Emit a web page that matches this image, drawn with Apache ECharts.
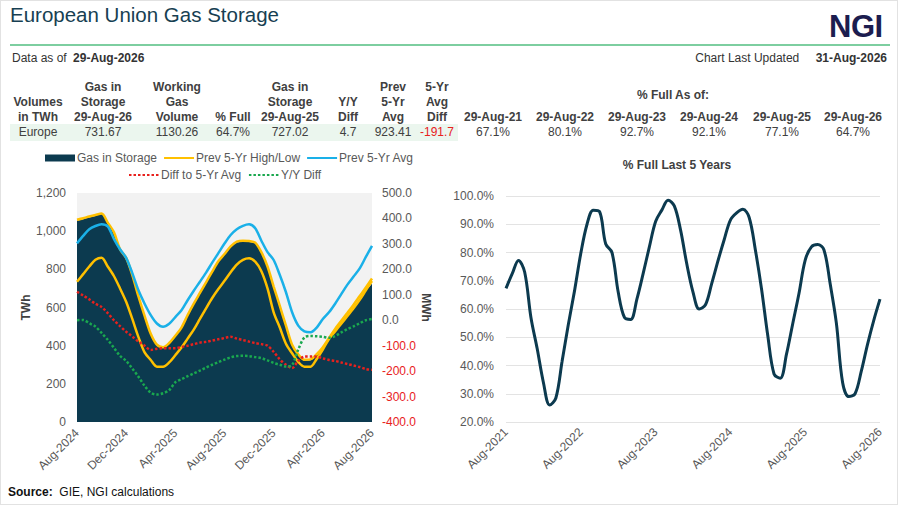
<!DOCTYPE html>
<html>
<head>
<meta charset="utf-8">
<title>European Union Gas Storage</title>
<script src="https://cdn.jsdelivr.net/npm/echarts@6/dist/echarts.min.js"></script>
<style>
  html, body { margin: 0; padding: 0; background: #fff; }
  body { width: 900px; height: 506px; position: relative; overflow: hidden;
         font-family: 'Liberation Sans', Arial, sans-serif; color: #333; }
  #frame { position: absolute; left: 0; top: 0; width: 896px; height: 503px; border: 1px solid #e2e2e2; }
  #chart { position: absolute; left: 0; top: 0; width: 900px; height: 506px; }
  .t { position: absolute; white-space: nowrap; font-size: 12px; line-height: 15px; }
  .c { transform: translateX(-50%); text-align: center; }
  .b { font-weight: bold; }
  #title { position: absolute; left: 10px; top: 5px; font-size: 20.5px; line-height: 20px; color: #173f52; white-space: nowrap; }
  #logo { position: absolute; left: 829px; top: 11px; font-size: 31px; line-height: 31px; font-weight: bold; color: #1c1d4f; letter-spacing: -0.5px; }
  #rule { position: absolute; left: 10px; top: 44px; width: 880px; height: 2px; background: #7dcea0; }
  #rowbg { position: absolute; left: 10px; top: 124px; width: 448px; height: 17px; background: #ebf6ee; }
</style>
</head>
<body>
<div id="frame"></div>
<div id="chart"></div>
<div id="title">European Union Gas Storage</div>
<div id="logo">NGI</div>
<div id="rule"></div>
<div class="t" style="left:12px;top:51px;">Data as of <b style="margin-left:3px;">29-Aug-2026</b></div>
<div class="t" style="right:13px;top:51px;">Chart Last Updated <b style="margin-left:13px;">31-Aug-2026</b></div>
<div id="rowbg"></div>
<div id="table"></div>
<div class="t c b" style="left:677px;top:158px;color:#404040;">% Full Last 5 Years</div>
<div class="t" style="left:8px;top:485px;color:#111;"><b>Source:</b>&nbsp; GIE, NGI calculations</div>
<script>
// 储量表
var tableHeads = [
    ['Volumes', 'in TWh'],
    ['Gas in', 'Storage', '29-Aug-26'],
    ['Working', 'Gas', 'Volume'],
    ['% Full'],
    ['Gas in', 'Storage', '29-Aug-25'],
    ['Y/Y', 'Diff'],
    ['Prev', '5-Yr', 'Avg'],
    ['5-Yr', 'Avg', 'Diff']
];
var tableRow = ['Europe', '731.67', '1130.26', '64.7%', '727.02', '4.7', '923.41', '-191.7'];
var tableX = [38, 103, 177, 233, 290, 348, 393, 437];

var fullDates = ['29-Aug-21', '29-Aug-22', '29-Aug-23', '29-Aug-24', '29-Aug-25', '29-Aug-26'];
var fullValues = ['67.1%', '80.1%', '92.7%', '92.1%', '77.1%', '64.7%'];
var fullX = [493, 565, 637, 709, 782, 853];

// 左图：每半月一个点，2024年8月 - 2026年8月
var leftGas = [1055, 1063, 1072, 1080, 1088, 1040, 990, 901, 856, 765,
    653, 552, 458, 400, 388, 410, 448, 490, 556, 615,
    671, 728, 784, 838, 875, 915, 940, 945, 943, 935,
    885, 810, 705, 603, 500, 400, 350, 322, 324, 349,
    382, 430, 477, 518, 557, 596, 643, 688, 725];
var leftHigh = [1060, 1068, 1077, 1085, 1092, 1045, 995, 905, 860, 770,
    658, 556, 462, 405, 392, 414, 452, 495, 560, 620,
    676, 732, 788, 842, 880, 920, 945, 950, 948, 940,
    890, 815, 710, 608, 505, 405, 355, 326, 328, 355,
    392, 440, 488, 530, 572, 615, 660, 705, 752];
var leftLow = [735, 775, 815, 850, 861, 815, 765, 700, 630, 540,
    445, 365, 325, 290, 290, 312, 350, 390, 437, 484,
    540, 596, 650, 697, 740, 785, 825, 850, 858, 840,
    790, 700, 575, 495, 410, 360, 315, 290, 290, 330,
    380, 435, 475, 515, 555, 596, 640, 690, 738];
var leftAvg = [936, 975, 1010, 1027, 1036, 1025, 960, 905, 860, 780,
    690, 620, 560, 516, 499, 515, 550, 585, 638, 688,
    735, 783, 835, 885, 935, 980, 1010, 1028, 1036, 1015,
    950, 890, 849, 770, 680, 575, 505, 475, 470, 495,
    540, 575, 620, 670, 720, 762, 805, 865, 923];
var leftDiffAvg = [112, 97, 82, 65, 52, 28, 0, -23, -45, -64,
    -84, -100, -117, -112, -110, -110, -110, -105, -100, -94,
    -88, -85, -80, -75, -70, -65, -72, -78, -84, -90,
    -94, -100, -124, -154, -175, -188, -160, -143, -143, -143,
    -150, -156, -160, -166, -172, -178, -184, -192, -195];
var leftDiffYoY = [0, 1, -12, -25, -50, -77, -108, -140, -160, -190,
    -222, -258, -285, -292, -287, -275, -244, -232, -220, -209,
    -198, -186, -175, -165, -155, -146, -141, -140, -141, -145,
    -149, -158, -168, -175, -182, -176, -115, -68, -62, -63,
    -65, -69, -62, -48, -35, -24, -12, 0, 5];

// 右图：每月一个点，2021年8月 - 2026年8月
var rightPctFull = [67.3, 72.5, 77.2, 73, 57, 46, 34, 26, 28.5, 41.5,
    54.5, 66.5, 79.7, 90, 95, 94.5, 83, 80, 66, 57,
    56.3, 63.5, 72.5, 82, 91, 95, 98.5, 96.5, 88, 76,
    66, 60, 61.5, 69, 77, 84.5, 91.5, 94, 95.3, 92.5,
    81, 67, 50.5, 37, 35.5, 44, 54.8, 65.5, 77.3, 82,
    82.8, 81, 69, 55, 34, 29, 30, 38, 47.5, 56,
    63.5];

var monthNames = ['Jan', 'Feb', 'Mar', 'Apr', 'May', 'Jun', 'Jul', 'Aug', 'Sep', 'Oct', 'Nov', 'Dec'];
var leftDates = [], rightDates = [];
leftGas.forEach(function (v, i) {
    var m = 7 + Math.floor(i / 2);
    var label = monthNames[m % 12] + '-' + (2024 + Math.floor(m / 12));
    leftDates.push(i % 2 ? '15-' + label : label);
});
rightPctFull.forEach(function (v, i) {
    var m = 7 + i;
    rightDates.push(monthNames[m % 12] + '-' + (2021 + Math.floor(m / 12)));
});

// 表格文字
var html = '';
var rowTop = [79.5, 94.5, 109.5];
tableHeads.forEach(function (lines, i) {
    lines.forEach(function (txt, k) {
        var top = rowTop[3 - lines.length + k];
        html += '<div class="t c b" style="left:' + tableX[i] + 'px;top:' + top + 'px;color:#404040;">' + txt + '</div>';
    });
    var color = tableRow[i].charAt(0) === '-' ? '#e8211d' : '#404040';
    html += '<div class="t c" style="left:' + tableX[i] + 'px;top:125px;color:' + color + ';">' + tableRow[i] + '</div>';
});
html += '<div class="t c b" style="left:673px;top:88px;color:#404040;">% Full As of:</div>';
fullDates.forEach(function (d, i) {
    html += '<div class="t c b" style="left:' + fullX[i] + 'px;top:109.5px;color:#404040;">' + d + '</div>';
    html += '<div class="t c" style="left:' + fullX[i] + 'px;top:125px;color:#404040;">' + fullValues[i] + '</div>';
});
document.getElementById('table').innerHTML = html;

var navy = '#0c3a4f', gold = '#ffc000', blue = '#1ab0e8', red = '#e8211d', green = '#1aa84f';
var labelGrey = '#595959';

var myChart = echarts.init(document.getElementById('chart'), null, {renderer: 'svg'});
var legendBase = {
    padding: 0,
    itemWidth: 30, itemHeight: 7,
    itemStyle: {opacity: 0},
    textStyle: {color: labelGrey, fontSize: 12, padding: [0, 0, 0, -3]}
};
var option = {
    animation: false,
    textStyle: {fontFamily: 'Liberation Sans, Arial, sans-serif'},
    legend: [
        echarts.util.merge({
            left: 45, top: 152, itemGap: 6,
            data: [{name: 'Gas in Storage', icon: 'rect', itemStyle: {opacity: 1, color: navy}},
                'Prev 5-Yr High/Low', 'Prev 5-Yr Avg']
        }, legendBase),
        echarts.util.merge({
            left: 128, top: 169, itemGap: 6,
            data: ['Diff to 5-Yr Avg', 'Y/Y Diff']
        }, legendBase)
    ],
    grid: [
        {left: 77, top: 193, width: 295, height: 229, show: true, backgroundColor: '#f2f2f2', borderWidth: 0},
        {left: 506, top: 196, width: 374, height: 226}
    ],
    xAxis: [
        {
            type: 'category', gridIndex: 0, data: leftDates, boundaryGap: false,
            axisLine: {show: false}, axisTick: {show: false},
            axisLabel: {interval: 7, rotate: 45, color: labelGrey, fontSize: 12, margin: 9}
        },
        {
            type: 'category', gridIndex: 1, data: rightDates, boundaryGap: false,
            axisLine: {show: false}, axisTick: {show: false},
            axisLabel: {interval: 11, rotate: 45, color: labelGrey, fontSize: 12, margin: 8}
        }
    ],
    yAxis: [
        {
            type: 'value', gridIndex: 0, min: 0, max: 1200, interval: 200,
            splitLine: {show: false},
            axisLabel: {
                color: labelGrey, fontSize: 12, margin: 11,
                formatter: function (v) { return v.toLocaleString('en-US'); }
            },
            name: 'TWh', nameLocation: 'middle', nameGap: 44, nameRotate: 90,
            nameTextStyle: {color: '#404040', fontSize: 12, fontWeight: 'bold'}
        },
        {
            type: 'value', gridIndex: 0, position: 'right', min: -400, max: 500, interval: 100,
            splitLine: {show: false},
            axisLabel: {
                fontSize: 12, margin: 10,
                color: function (v) { return Number(v) < 0 ? red : labelGrey; },
                formatter: function (v) { return v.toFixed(1); }
            },
            name: 'MWh', nameLocation: 'middle', nameGap: 48, nameRotate: -90,
            nameTextStyle: {color: '#404040', fontSize: 12, fontWeight: 'bold'}
        },
        {
            type: 'value', gridIndex: 1, min: 20, max: 100, interval: 10,
            splitLine: {lineStyle: {color: '#e3e3e3', width: 1}},
            axisLabel: {
                color: labelGrey, fontSize: 12, margin: 12,
                formatter: function (v) { return v.toFixed(1) + '%'; }
            }
        }
    ],
    series: [
        {
            name: 'Gas in Storage', type: 'line', xAxisIndex: 0, yAxisIndex: 0,
            data: leftGas, symbol: 'none', smooth: 0.3, color: navy,
            lineStyle: {width: 0}, areaStyle: {color: navy, opacity: 1}
        },
        {
            name: 'Prev 5-Yr High/Low', type: 'line', xAxisIndex: 0, yAxisIndex: 0,
            data: leftHigh, symbol: 'none', smooth: 0.3, color: gold,
            lineStyle: {width: 2.5, color: gold}
        },
        {
            name: 'Prev 5-Yr High/Low', type: 'line', xAxisIndex: 0, yAxisIndex: 0,
            data: leftLow, symbol: 'none', smooth: 0.3, color: gold,
            lineStyle: {width: 2.5, color: gold}
        },
        {
            name: 'Prev 5-Yr Avg', type: 'line', xAxisIndex: 0, yAxisIndex: 0,
            data: leftAvg, symbol: 'none', smooth: 0.3, color: blue,
            lineStyle: {width: 2.5, color: blue}
        },
        {
            name: 'Diff to 5-Yr Avg', type: 'line', xAxisIndex: 0, yAxisIndex: 1,
            data: leftDiffAvg, symbol: 'none', smooth: 0.3, color: red,
            lineStyle: {width: 2.5, color: red, type: [2.5, 2]}
        },
        {
            name: 'Y/Y Diff', type: 'line', xAxisIndex: 0, yAxisIndex: 1,
            data: leftDiffYoY, symbol: 'none', smooth: 0.3, color: green,
            lineStyle: {width: 2.5, color: green, type: [2.5, 2]}
        },
        {
            name: '% Full', type: 'line', xAxisIndex: 1, yAxisIndex: 2,
            data: rightPctFull, symbol: 'none', smooth: 0.35, color: navy,
            lineStyle: {width: 3, color: navy}
        }
    ]
};
myChart.setOption(option);
</script>
</body>
</html>
